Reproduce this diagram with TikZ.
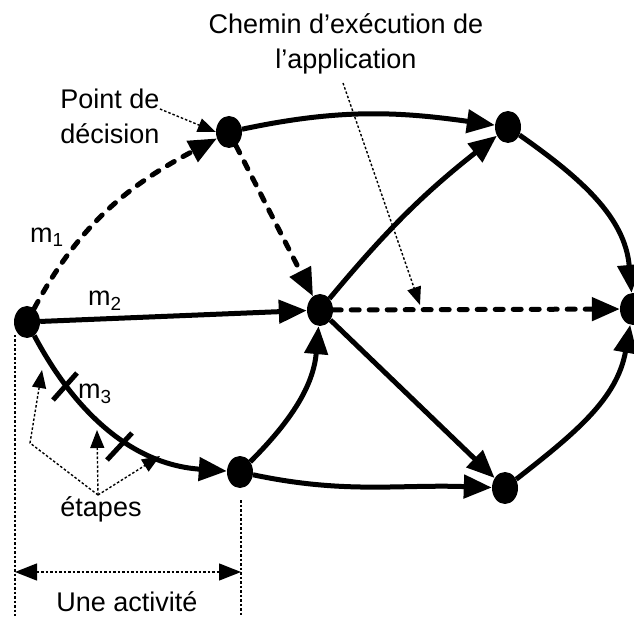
\documentclass[tikz,border=0pt]{standalone}
\usepackage{fontspec}
\setmainfont{Liberation Sans}
\usetikzlibrary{arrows.meta,shapes.geometric}
\begin{document}
\begin{tikzpicture}[x=1pt,y=1pt,
  dot/.style={ellipse,fill=black,draw=none,minimum width=26pt,minimum height=32pt,inner sep=0pt},
  lbl/.style={font=\fontsize{27}{35}\selectfont,inner sep=0pt},
  big/.style={line width=5pt,-{Triangle[length=28pt,width=23pt]}},
  dsh/.style={big,line cap=round,dash pattern=on 8pt off 10pt},
  tick/.style={line width=5pt},
  note/.style={line width=1.4pt,dash pattern=on 2.5pt off 2pt},
  noteA/.style={note,-{Triangle[length=18pt,width=14pt]}},
  dimA/.style={note,{Triangle[length=22pt,width=17pt]}-{Triangle[length=22pt,width=17pt]}}
]
\useasboundingbox (0,0) rectangle (634,616);
% nodes
\node[dot] (A) at (27,294) {};
\node[dot] (B) at (229,484) {};
\node[dot] (C) at (320,306) {};
\node[dot] (D) at (508,489) {};
\node[dot] (E) at (633,307) {};
\node[dot] (F) at (240,144) {};
\node[dot] (G) at (505,128) {};
% edges
\draw[dsh] (A) to[out=62,in=208] (B);
\draw[big] (B) to[out=12,in=172] (D);
\draw[dsh] (B) -- (C);
\draw[big] (A) -- (C);
\draw[big] (C) to[bend left=6] (D);
\draw[dsh] (C) -- (E);
\draw[big] (C) -- (G);
\draw[big] (D) to[out=-35,in=95] (E);
\draw[big] (G) to[out=38,in=-100] (E);
\draw[big] (F) to[out=45,in=-95] (C);
\draw[big] (F) to[out=-12,in=178] (G);
\draw[big] (A) to[out=-62,in=176] (F);
% ticks on m3
\coordinate (t1a) at (53,216); \coordinate (t1b) at (77,243);
\coordinate (t2a) at (107,156); \coordinate (t2b) at (132,183);
\draw[tick] (t1a) -- (t1b);
\draw[tick] (t2a) -- (t2b);
% labels
\node[lbl] (m1) at (47,379) {m\textsubscript{1}};
\node[lbl] (m2) at (105,315) {m\textsubscript{2}};
\node[lbl] (m3) at (95,222) {m\textsubscript{3}};
\node[lbl,align=center,anchor=north] (chemin) at (346,603) {Chemin d’exécution de\\l’application};
\node[lbl,align=center] (pd) at (110,500) {Point de\\décision};
\node[lbl] (etapes) at (101,107) {étapes};
\node[lbl] (act) at (127,14) {Une activité};
% annotation arrows
\coordinate (ch0) at (343,533);
\coordinate (ch1) at (420,311);
\draw[noteA] (ch0) -- (ch1);
\coordinate (pd0) at (160,507);
\draw[noteA] (pd0) -- (B.west);
\coordinate (e0) at (98,121);
\coordinate (eb) at (30,173);
\coordinate (e1) at (42,246);
\coordinate (e2) at (97,186);
\coordinate (e3) at (160,160);
\draw[noteA] (e0) -- (eb) -- (e1);
\draw[noteA] (e0) -- (e2);
\draw[noteA] (e0) -- (e3);
% dimension
\coordinate (v1a) at (15,281); \coordinate (v1b) at (15,0);
\coordinate (v2a) at (241,116); \coordinate (v2b) at (241,0);
\draw[note] (v1a) -- (v1b);
\draw[note] (v2a) -- (v2b);
\coordinate (h1) at (15,44); \coordinate (h2) at (241,44);
\draw[dimA] (h1) -- (h2);
\end{tikzpicture}
\end{document}
